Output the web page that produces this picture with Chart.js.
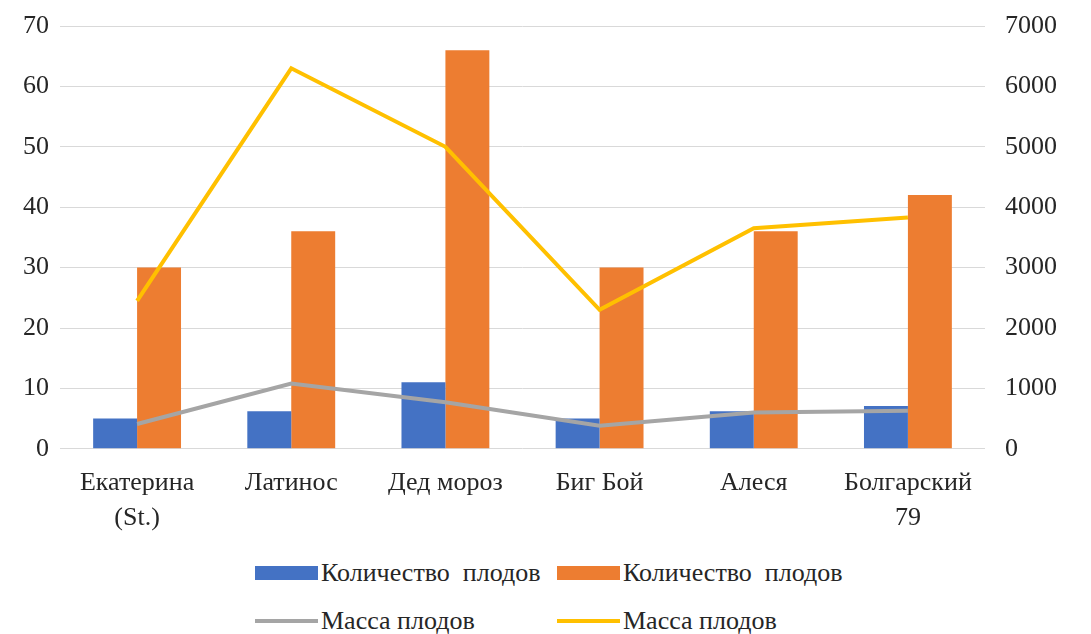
<!DOCTYPE html>
<html lang="ru">
<head>
    <meta charset="UTF-8">
    <title>Количество и масса плодов</title>
    <script src="https://cdn.jsdelivr.net/npm/chart.js@4"></script>
    <style>
        body {
            margin: 0;
            padding: 0;
            background-color: #fff;
            font-family: 'Liberation Serif', 'Times New Roman', serif;
        }

        .wrap {
            position: relative;
            width: 1091px;
            height: 634px;
        }

        .chart-box {
            position: absolute;
            left: 0;
            top: 0;
            width: 1091px;
            height: 553px;
        }

        .legend-item {
            position: absolute;
            display: flex;
            align-items: center;
            font-size: 26px;
            color: #262626;
            white-space: pre;
            height: 30px;
        }

        .legend-item .swatch {
            width: 63px;
            margin-right: 3px;
        }
    </style>
</head>
<body>
    <div class="wrap">
        <div class="chart-box">
            <canvas id="plodyChart"></canvas>
        </div>
        <div id="legend"></div>
    </div>

    <script>
        // Сорта и показатели
        const categories = [['Екатерина', '(St.)'], 'Латинос', 'Дед мороз', 'Биг Бой', 'Алеся', ['Болгарский', '79']];
        const countA = [5, 6.2, 11, 5, 6.2, 7.1];
        const countB = [30, 36, 66, 30, 36, 42];
        const massA = [410, 1080, 770, 380, 600, 630];
        const massB = [2450, 6300, 5000, 2300, 3650, 3830];

        const leftMax = 70, leftStep = 10;
        const rightMax = 7000, rightStep = 1000;

        const textColor = '#262626';
        const font = { family: "'Liberation Serif', 'Times New Roman', serif", size: 26 };

        const ctx = document.getElementById('plodyChart').getContext('2d');
        const chart = new Chart(ctx, {
            data: {
                labels: categories,
                datasets: [
                    {
                        type: 'bar',
                        label: 'Количество  плодов',
                        data: countA,
                        backgroundColor: '#4472C4',
                        yAxisID: 'y',
                        order: 2,
                        categoryPercentage: 0.57,
                        barPercentage: 1
                    },
                    {
                        type: 'bar',
                        label: 'Количество  плодов',
                        data: countB,
                        backgroundColor: '#ED7D31',
                        yAxisID: 'y',
                        order: 2,
                        categoryPercentage: 0.57,
                        barPercentage: 1
                    },
                    {
                        type: 'line',
                        label: 'Масса плодов',
                        data: massA,
                        borderColor: '#A5A5A5',
                        backgroundColor: '#A5A5A5',
                        borderWidth: 4,
                        pointRadius: 0,
                        tension: 0,
                        yAxisID: 'y1',
                        order: 1
                    },
                    {
                        type: 'line',
                        label: 'Масса плодов',
                        data: massB,
                        borderColor: '#FFC000',
                        backgroundColor: '#FFC000',
                        borderWidth: 4,
                        pointRadius: 0,
                        tension: 0,
                        yAxisID: 'y1',
                        order: 1
                    }
                ]
            },
            options: {
                responsive: true,
                maintainAspectRatio: false,
                animation: false,
                layout: { padding: { top: 26, bottom: 0, left: 0, right: 0 } },
                plugins: {
                    legend: { display: false },
                    tooltip: { enabled: false }
                },
                scales: {
                    x: {
                        grid: { display: false, drawTicks: false },
                        border: { display: false },
                        ticks: {
                            color: textColor,
                            font: { ...font, lineHeight: 1.35 },
                            padding: 17,
                            maxRotation: 0,
                            autoSkip: false
                        }
                    },
                    y: {
                        position: 'left',
                        min: 0,
                        max: leftMax,
                        // невидимые засечки дают отступ подписей от сетки
                        grid: { color: '#d9d9d9', lineWidth: 1, tickLength: 11, tickColor: 'transparent' },
                        border: { display: false },
                        ticks: { stepSize: leftStep, color: textColor, font: font, padding: 0 },
                        afterFit: axis => { axis.width = 60; }
                    },
                    y1: {
                        position: 'right',
                        min: 0,
                        max: rightMax,
                        grid: { drawOnChartArea: false, tickLength: 20, tickColor: 'transparent' },
                        border: { display: false },
                        ticks: {
                            stepSize: rightStep,
                            color: textColor,
                            font: font,
                            padding: 0,
                            callback: v => String(v)
                        },
                        afterFit: axis => { axis.width = 106; }
                    }
                }
            }
        });

        // Легенда в две колонки
        const legendBox = document.getElementById('legend');
        const cols = [255, 557];
        const rows = [573, 621];
        chart.data.datasets.forEach((ds, i) => {
            const item = document.createElement('div');
            item.className = 'legend-item';
            item.style.left = cols[i % 2] + 'px';
            item.style.top = (rows[Math.floor(i / 2)] - 15) + 'px';
            const sw = document.createElement('span');
            sw.className = 'swatch';
            if (ds.type === 'bar') {
                sw.style.height = '14px';
                sw.style.background = ds.backgroundColor;
            } else {
                sw.style.height = '4px';
                sw.style.background = ds.borderColor;
            }
            const txt = document.createElement('span');
            txt.textContent = ds.label;
            item.appendChild(sw);
            item.appendChild(txt);
            legendBox.appendChild(item);
        });
    </script>
</body>
</html>
